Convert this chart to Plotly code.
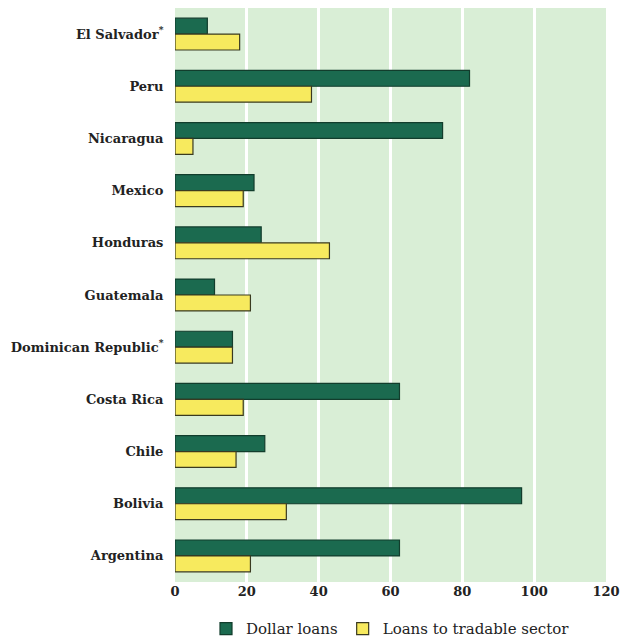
import plotly.graph_objects as go

countries = ["El Salvador<sup>*</sup>", "Peru", "Nicaragua", "Mexico", "Honduras", "Guatemala",
             "Dominican Republic<sup>*</sup>", "Costa Rica", "Chile", "Bolivia", "Argentina"]
dollar_loans = [9, 82, 74.5, 22, 24, 11, 16, 62.5, 25, 96.5, 62.5]
tradable = [18, 38, 5, 19, 43, 21, 16, 19, 17, 31, 21]
x_ticks = [0, 20, 40, 60, 80, 100, 120]

font_family = "DejaVu Serif"
fig = go.Figure()
fig.add_trace(go.Bar(y=countries, x=dollar_loans, orientation="h", name="Dollar loans",
                     marker=dict(color="#1b6a4f", line=dict(color="#123d2c", width=1.2))))
fig.add_trace(go.Bar(y=countries, x=tradable, orientation="h", name="Loans to tradable sector",
                     marker=dict(color="#f7ea5e", line=dict(color="#3a3a20", width=1.2))))

fig.update_layout(
    width=621, height=639,
    margin=dict(l=175, r=15, t=8, b=57, autoexpand=False),
    paper_bgcolor="white",
    plot_bgcolor="#d9eed6",
    barmode="group",
    bargap=0.39,
    bargroupgap=0,
    font=dict(family=font_family, size=14, color="#222222"),
    xaxis=dict(range=[0, 120], tickvals=x_ticks, showgrid=True, gridcolor="white", gridwidth=2.5,
               zeroline=False, showline=False, ticks="", ticklen=0,
               tickfont=dict(family=font_family, size=13, color="#222222", weight="bold")),
    yaxis=dict(showgrid=False, ticks="outside", ticklen=8, tickcolor="rgba(0,0,0,0)",
               tickfont=dict(family=font_family, size=13, color="#222222", weight="bold"),
               autorange=False, range=[10.5, -0.5]),
    legend=dict(orientation="h", x=0.5, xanchor="center", yref="container", y=0.016,
                yanchor="middle", font=dict(family=font_family, size=15, color="#222222"),
                traceorder="normal", itemwidth=30),
)
fig.write_html("out.html")
